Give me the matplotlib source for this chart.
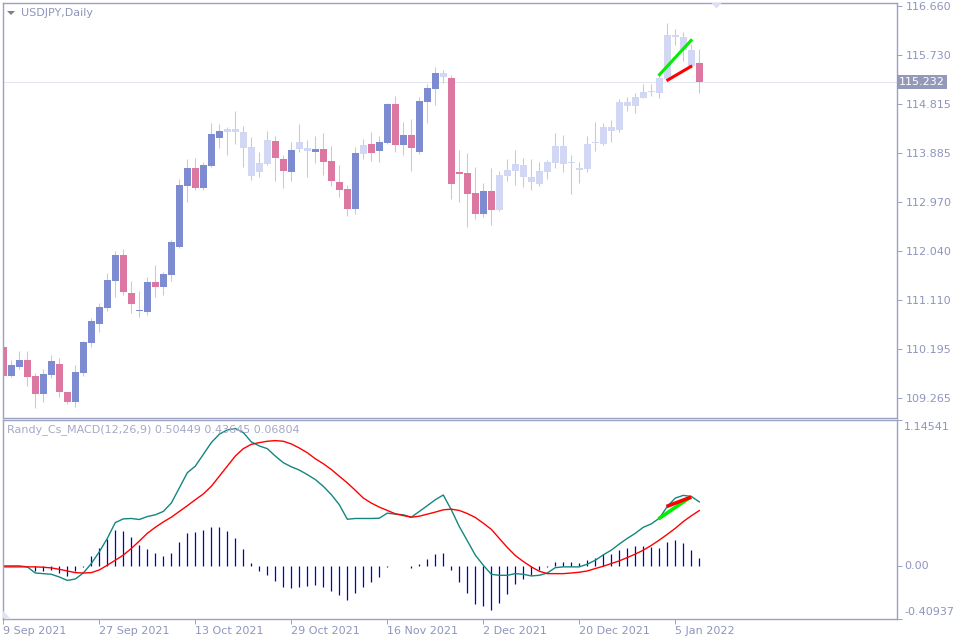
import numpy as np
import matplotlib
matplotlib.use("Agg")
import matplotlib.pyplot as plt
import matplotlib.transforms as mtransforms
from matplotlib.patches import Polygon

# ---------------- data ----------------
opens = [110.235,109.688,109.858,109.984,109.683,109.349,109.707,109.909,109.381,109.198,
         109.745,110.311,110.669,110.971,111.480,111.965,111.248,110.900,110.896,111.455,
         111.367,111.593,112.121,113.271,113.605,113.234,113.648,114.177,114.290,114.290,
         114.284,114.001,113.535,113.686,114.114,113.775,113.535,113.969,113.982,113.912,
         113.963,113.737,113.341,113.209,112.838,113.875,114.058,113.931,114.082,114.812,
         114.044,114.227,113.912,114.855,115.101,115.397,115.302,113.505,113.511,113.134,
         112.743,113.171,112.819,113.454,113.554,113.662,113.435,113.309,113.535,113.705,
         114.020,113.694,113.573,113.592,114.071,114.063,114.308,114.327,114.774,114.774,
         114.925,115.038,115.025,115.289,116.113,116.075,115.830,115.591]
closes = [109.688,109.890,109.984,109.670,109.349,109.720,109.966,109.387,109.198,109.758,
          110.324,110.720,110.984,111.493,111.965,111.273,111.046,110.907,111.455,111.367,
          111.606,112.210,113.285,113.605,113.234,113.662,114.246,114.303,114.341,114.341,
          113.988,113.460,113.699,114.133,113.799,113.554,113.945,114.095,113.931,113.963,
          113.724,113.366,113.196,112.838,113.888,114.039,113.894,114.095,114.812,114.044,
          114.227,113.988,114.869,115.114,115.397,115.327,113.309,113.500,113.120,112.743,
          113.171,112.819,113.473,113.567,113.681,113.441,113.347,113.549,113.713,114.020,
          113.686,113.690,113.599,114.058,114.075,114.378,114.378,114.850,114.850,114.944,
          115.038,115.040,115.302,116.113,116.081,115.830,115.534,115.232]
highs = [110.267,109.984,110.154,110.154,109.745,109.815,110.079,110.022,109.381,109.890,
         110.343,110.771,111.059,111.625,112.040,112.078,111.474,111.286,111.550,111.776,
         111.644,112.247,113.398,113.775,113.794,113.718,114.454,114.435,114.378,114.680,
         114.397,114.190,113.907,114.303,114.209,113.850,114.095,114.435,114.133,114.209,
         114.265,114.020,113.662,113.285,114.001,114.152,114.284,114.209,114.831,114.963,
         114.473,114.529,114.944,115.189,115.510,115.453,115.359,113.945,113.888,113.624,
         113.328,113.605,113.549,113.775,113.945,113.794,113.775,113.718,113.756,114.265,
         114.227,113.856,113.718,114.209,114.473,114.454,114.510,114.906,114.944,115.019,
         115.189,115.189,115.383,116.339,116.226,116.170,115.943,115.855]
lows = [109.594,109.670,109.809,109.500,109.085,109.198,109.651,109.292,109.160,109.104,
        109.688,110.235,110.518,110.914,111.178,111.210,110.876,110.801,110.839,111.178,
        111.216,111.480,112.097,112.970,113.196,113.196,113.630,113.988,113.856,114.063,
        113.630,113.384,113.441,113.667,113.366,113.234,113.366,113.912,113.441,113.705,
        113.479,113.271,113.064,112.706,112.743,113.780,113.743,113.724,114.063,113.912,
        113.856,113.554,113.875,114.459,114.799,115.214,113.026,112.970,112.498,112.649,
        112.687,112.536,112.794,113.366,113.290,113.252,113.196,113.266,113.403,113.611,
        113.535,113.120,113.313,113.535,113.931,114.044,114.101,114.290,114.686,114.648,
        114.916,114.963,114.931,115.265,115.925,115.623,115.491,115.025]
# b = bull (blue), p = bear (pink), l = light (indicator-coloured)
candle_kind = ("pbbppbbppb" "bbbbbppbbp" "bbbbpbbbll" "llllppbllb" "ppppblpbbp"
               "bpbbblpppp" "bpllllllll" "llllllllll" "lllllllp")

macd_main = [0.003,0.003,0.003,-0.005,-0.053,-0.058,-0.063,-0.084,-0.111,-0.100,
             -0.053,0.021,0.113,0.218,0.342,0.371,0.374,0.366,0.389,0.403,
             0.429,0.495,0.613,0.732,0.784,0.876,0.968,1.034,1.068,1.079,
             1.047,0.974,0.942,0.921,0.863,0.811,0.779,0.753,0.718,0.679,
             0.626,0.561,0.482,0.368,0.374,0.374,0.374,0.376,0.416,0.408,
             0.403,0.384,0.429,0.474,0.521,0.558,0.442,0.311,0.200,0.087,
             0.008,-0.063,-0.071,-0.071,-0.058,-0.063,-0.076,-0.071,-0.053,-0.011,
             -0.005,-0.005,-0.005,0.016,0.047,0.089,0.126,0.174,0.218,0.258,
             0.305,0.332,0.376,0.468,0.534,0.555,0.547,0.504]
macd_signal = [-0.005,-0.005,-0.005,-0.005,-0.005,-0.008,-0.013,-0.024,-0.037,-0.050,
               -0.053,-0.050,-0.029,0.008,0.047,0.087,0.139,0.197,0.258,0.305,
               0.347,0.384,0.429,0.474,0.521,0.566,0.626,0.705,0.784,0.863,
               0.921,0.955,0.968,0.979,0.984,0.979,0.958,0.926,0.889,0.842,
               0.803,0.758,0.705,0.653,0.595,0.534,0.495,0.463,0.437,0.411,
               0.397,0.384,0.392,0.408,0.424,0.442,0.447,0.437,0.413,0.382,
               0.337,0.289,0.218,0.147,0.084,0.037,-0.005,-0.039,-0.058,-0.058,
               -0.058,-0.053,-0.047,-0.037,-0.018,0.000,0.021,0.042,0.068,0.095,
               0.126,0.163,0.205,0.250,0.297,0.350,0.395,0.436]
macd_hist = [0.004,0.004,0.004,-0.005,-0.037,-0.037,-0.032,-0.053,-0.074,-0.037,
             -0.005,0.079,0.142,0.216,0.284,0.276,0.229,0.166,0.134,0.103,
             0.079,0.103,0.189,0.261,0.268,0.284,0.308,0.308,0.276,0.221,
             0.134,0.024,-0.037,-0.071,-0.116,-0.163,-0.171,-0.163,-0.155,-0.147,
             -0.163,-0.195,-0.226,-0.266,-0.211,-0.163,-0.124,-0.084,-0.005,0.001,
             0.003,-0.011,0.016,0.055,0.095,0.103,-0.029,-0.124,-0.211,-0.297,
             -0.313,-0.345,-0.289,-0.218,-0.139,-0.100,-0.068,-0.029,-0.003,0.032,
             0.032,0.032,0.024,0.047,0.063,0.095,0.095,0.126,0.142,0.158,
             0.158,0.150,0.142,0.189,0.205,0.182,0.126,0.068]

# divergence lines drawn by the indicator (bar index, value)
div_up_x = [81.9, 86.1]
div_up_price = [115.345, 116.032]
div_dn_x = [82.9, 86.1]
div_dn_price = [115.250, 115.533]
div_up_macd_x = [81.9, 85.9]
div_up_macd = [0.371, 0.542]
div_dn_macd_x = [82.9, 86.0]
div_dn_macd = [0.468, 0.542]

price_ticks = [116.660, 115.730, 114.815, 113.885, 112.970, 112.040, 111.110, 110.195, 109.265]
last_price = 115.232
macd_ticks = [1.14541, 0.00, -0.40937]
macd_tick_labels = ["1.14541", "0.00", "-0.40937"]
date_tick_idx = [0, 12, 24, 36, 48, 60, 72, 84]
date_tick_labels = ["9 Sep 2021", "27 Sep 2021", "13 Oct 2021", "29 Oct 2021",
                    "16 Nov 2021", "2 Dec 2021", "20 Dec 2021", "5 Jan 2022"]
symbol_title = "USDJPY,Daily"
macd_title = "Randy_Cs_MACD(12,26,9) 0.50449 0.43645 0.06804"

# ---------------- style ----------------
plt.rcParams['font.family'] = ['DejaVu Sans']
W, H = 960, 640
BORDER = '#9ca2c2'
TXT = '#8e95bd'
BULL = '#7d8bd1'
BEAR = '#dc77a2'
LIGHT = '#d2d8f3'
WICK = '#c8c9dd'
PX = 0.72  # one pixel in points

fig = plt.figure(figsize=(W / 100, H / 100), dpi=100)

def fr(x0, y0, x1, y1):
    return [x0 / W, 1 - y1 / H, (x1 - x0) / W, (y1 - y0) / H]

ax = fig.add_axes(fr(2.5, 2.5, 896.5, 417.5))
ax2 = fig.add_axes(fr(2.5, 420.0, 896.5, 618.5))

x = np.arange(len(opens))
o = np.array(opens); c = np.array(closes); h = np.array(highs); l = np.array(lows)
cmap = {'b': BULL, 'p': BEAR, 'l': LIGHT}
cols = [cmap[k] for k in candle_kind]

# last price line
ax.axhline(last_price, color='#e3e5f0', lw=PX, zorder=0.5)
# wicks
ax.vlines(x, l, h, color=WICK, lw=PX * 1.1, zorder=1)
# bodies
body_h = np.maximum(np.abs(c - o), 0.022)
ax.bar(x, body_h, bottom=np.minimum(o, c), width=0.84, color=cols, lw=0, zorder=2)
# divergence lines
ax.plot(div_up_x, div_up_price, color='#00ee00', lw=2.2, solid_capstyle='butt', zorder=3)
ax.plot(div_dn_x, div_dn_price, color='#ff0000', lw=2.2, solid_capstyle='butt', zorder=3)

xlim = ((2.5 - 3.3) / 8, (896.5 - 3.3) / 8)
ax.set_xlim(*xlim)
ax.set_ylim(116.660 - (417.5 - 6) / 53.03, 116.660 + (6 - 2.5) / 53.03)

ax.yaxis.tick_right()
ax.set_yticks(price_ticks)
ax.set_yticklabels([f"{v:.3f}" for v in price_ticks])
ax.tick_params(axis='y', direction='out', length=3.5, width=PX, color=BORDER,
               labelcolor=TXT, labelsize=8, pad=3)
ax.set_xticks([])
for s in ax.spines.values():
    s.set_color(BORDER); s.set_linewidth(1.0)

# last price label box
bt = mtransforms.blended_transform_factory(ax.transAxes, ax.transData)
ax.text(1.003, last_price, f"{last_price:.3f}", transform=bt, ha='left', va='center',
        fontsize=8, color='white', clip_on=False, zorder=5,
        bbox=dict(boxstyle='square,pad=0.18', fc='#9499b9', ec='none'))

# MACD panel
ax2.vlines(x, 0, macd_hist, color='#0000cc', lw=0.9, zorder=1)
ax2.plot(x, macd_main, color='#13877f', lw=1.0, zorder=2)
ax2.plot(x, macd_signal, color='#ff0000', lw=1.0, zorder=2)
ax2.plot(div_up_macd_x, div_up_macd, color='#00ee00', lw=2.6, solid_capstyle='butt', zorder=3)
ax2.plot(div_dn_macd_x, div_dn_macd, color='#ff0000', lw=2.6, solid_capstyle='butt', zorder=3)
ax2.set_xlim(*xlim)
ax2.set_ylim(macd_ticks[2], macd_ticks[0])
ax2.yaxis.tick_right()
ax2.set_yticks(macd_ticks)
ax2.set_yticklabels([])
ax2.tick_params(axis='y', direction='out', length=3.5, width=PX, color=BORDER)
bt2 = mtransforms.blended_transform_factory(ax2.transAxes, ax2.transData)
vas = ['top', 'center', 'bottom']
offs = [-1.5, 0, 1.5]
for v, lab, va, off in zip(macd_ticks, macd_tick_labels, vas, offs):
    ax2.annotate(lab, xy=(1.0, v), xycoords=bt2, xytext=(7.5, off), textcoords='offset pixels',
                 ha='left', va=va, fontsize=8, color=TXT, annotation_clip=False)

ax2.set_xticks(date_tick_idx)
ax2.set_xticklabels(date_tick_labels, ha='left')
ax2.tick_params(axis='x', direction='out', length=3.5, width=PX, color=BORDER,
                labelcolor=TXT, labelsize=8, pad=2)
for s in ax2.spines.values():
    s.set_color(BORDER); s.set_linewidth(1.0)

# titles
fig.text(21 / W, 1 - 13.5 / H, symbol_title, ha='left', va='center', fontsize=8, color=TXT)
fig.text(7 / W, 1 - 430 / H, macd_title, ha='left', va='center', fontsize=8, color='#a4a9c8')

def fpoly(pts, color):
    fig.patches.append(Polygon([(px / W, 1 - py / H) for px, py in pts], closed=True,
                               transform=fig.transFigure, fc=color, ec='none', zorder=10))

fpoly([(7, 11), (15, 11), (11, 15)], '#7f7f85')          # menu arrow
fpoly([(711.5, 3), (721.5, 3), (716.5, 8.5)], '#dde0f4')  # chart shift marker
fpoly([(3, 611), (3, 618), (10, 618)], '#dfe2f2')         # corner marker

fig.savefig("out.png", dpi=100)
